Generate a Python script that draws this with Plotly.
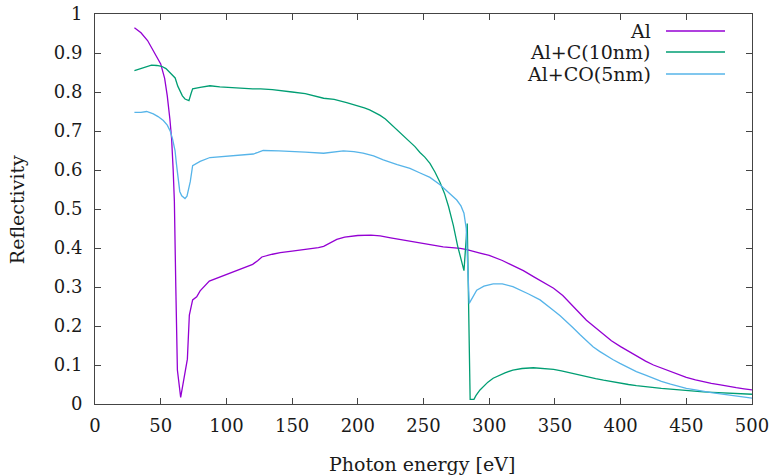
import plotly.graph_objects as go

# ---------------- data ----------------
al_E = [30, 35, 40, 43, 47, 50, 53, 55, 57, 58.3, 59.5, 60.4, 61.5, 62.7, 65.2, 67.5,
        70.3, 71.8, 74.3, 77.4, 80, 87, 95, 103, 110, 120, 124, 127, 135, 141, 150, 160,
        170, 174, 180, 184, 190, 200, 210, 217, 225, 240, 255, 265, 278, 283, 293, 300,
        310, 318, 326, 334, 341, 349, 356, 362, 368, 374, 381, 387, 393, 400, 406, 412,
        419, 425, 431, 438, 444, 450, 457, 463, 469, 476, 482, 488, 494, 500]
al_R = [0.965, 0.952, 0.932, 0.915, 0.89, 0.872, 0.835, 0.79, 0.73, 0.68, 0.6, 0.52, 0.3, 0.087, 0.017, 0.06,
        0.115, 0.228, 0.267, 0.275, 0.29, 0.315, 0.325, 0.337, 0.344, 0.358, 0.368, 0.377, 0.384, 0.388, 0.392, 0.396,
        0.401, 0.404, 0.415, 0.422, 0.428, 0.432, 0.433, 0.431, 0.426, 0.418, 0.409, 0.403, 0.399, 0.396, 0.387, 0.381,
        0.368, 0.356, 0.342, 0.326, 0.312, 0.297, 0.278, 0.258, 0.236, 0.215, 0.195, 0.178, 0.162, 0.147, 0.135, 0.122,
        0.11, 0.1, 0.092, 0.083, 0.075, 0.068, 0.062, 0.057, 0.053, 0.049, 0.045, 0.042, 0.039, 0.036]

alc_E = [30, 35, 40, 43, 47, 50.7, 54, 57, 61, 63, 64.7, 66.5, 68.5, 71.5, 73, 74.3, 80, 87.5,
         95, 103, 110, 120, 126, 135, 150, 160, 174, 182, 191.5, 200, 205, 209, 213, 217, 221,
         224.5, 228, 232, 236, 239.7, 243.5, 247.3, 251, 254.9, 258.7, 262.6, 266, 269, 272.7,
         276, 278.5, 280.8, 283.3, 285.5, 288.4, 290, 293, 296, 299, 303, 307, 312, 318, 325,
         333.6, 341, 349, 355, 361, 368, 374, 381, 387, 393, 400, 406, 412, 419, 425, 431, 438,
         444, 450, 457, 463, 470, 476, 482, 488, 494, 500]
alc_R = [0.855, 0.861, 0.866, 0.869, 0.868, 0.866, 0.86, 0.85, 0.836, 0.815, 0.802, 0.79, 0.782, 0.778, 0.795, 0.808, 0.812, 0.816,
         0.813, 0.811, 0.81, 0.808, 0.808, 0.806, 0.8, 0.796, 0.784, 0.781, 0.773, 0.765, 0.759, 0.754, 0.748, 0.74, 0.731,
         0.72, 0.71, 0.698, 0.686, 0.673, 0.66, 0.645, 0.633, 0.617, 0.595, 0.568, 0.54, 0.507, 0.458,
         0.405, 0.372, 0.342, 0.463, 0.012, 0.012, 0.022, 0.036, 0.047, 0.056, 0.066, 0.073, 0.08, 0.087, 0.091,
         0.093, 0.092, 0.089, 0.085, 0.08, 0.075, 0.07, 0.065, 0.061, 0.057, 0.053, 0.05, 0.047, 0.044, 0.042, 0.04, 0.038,
         0.036, 0.034, 0.032, 0.031, 0.03, 0.029, 0.028, 0.027, 0.026, 0.025]

alco_E = [30, 35, 39.3, 44.4, 48, 52, 55, 57.1, 59, 60.9, 62, 63.4, 64.5, 66, 68.5, 70, 71, 72.5,
          74.3, 80, 87.5, 95, 103, 110, 120.5, 124, 128, 140, 150, 160, 174, 180, 189, 197, 204,
          212, 219.4, 230, 239.7, 247, 254.9, 262.6, 270, 275.3, 278.5, 280.8, 282.5, 284.8, 290.5,
          296, 303, 310, 318, 324, 330, 338.7, 344, 349, 354, 359, 364, 369, 374, 379, 384, 389,
          394, 399.5, 406, 412, 419, 425, 431, 438, 444, 450, 457, 463, 469, 476, 482, 488, 494, 500]
alco_R = [0.748, 0.748, 0.75, 0.744, 0.737, 0.727, 0.715, 0.701, 0.68, 0.65, 0.615, 0.573, 0.545, 0.534, 0.527, 0.533, 0.547, 0.57,
          0.611, 0.622, 0.632, 0.634, 0.636, 0.638, 0.641, 0.645, 0.65, 0.649, 0.648, 0.646, 0.643, 0.645, 0.649, 0.647, 0.643,
          0.636, 0.626, 0.614, 0.604, 0.593, 0.581, 0.562, 0.54, 0.523, 0.508, 0.489, 0.45, 0.258, 0.292,
          0.302, 0.308, 0.308, 0.301, 0.292, 0.282, 0.267, 0.254, 0.24, 0.226, 0.211, 0.195, 0.178, 0.162, 0.147, 0.135, 0.124,
          0.114, 0.104, 0.093, 0.083, 0.074, 0.066, 0.058, 0.051, 0.045, 0.04, 0.036, 0.032, 0.029, 0.026, 0.023, 0.02, 0.017, 0.015]

series_names = ["Al", "Al+C(10nm)", "Al+CO(5nm)"]
series_colors = ["#9400d3", "#009e73", "#56b4e9"]

x_ticks = [0, 50, 100, 150, 200, 250, 300, 350, 400, 450, 500]
y_ticks = [0, 0.1, 0.2, 0.3, 0.4, 0.5, 0.6, 0.7, 0.8, 0.9, 1]
y_ticklabels = ["0", "0.1", "0.2", "0.3", "0.4", "0.5", "0.6", "0.7", "0.8", "0.9", "1"]

# ---------------- figure ----------------
FONT = "DejaVu Serif"
TXT = "#1a1a1a"
fig = go.Figure()
for E, R, name, col in zip([al_E, alc_E, alco_E], [al_R, alc_R, alco_R], series_names, series_colors):
    fig.add_trace(go.Scatter(x=E, y=R, mode="lines", name=name,
                             line=dict(color=col, width=1.3), showlegend=False))

axis_common = dict(showline=True, linecolor="#444", linewidth=1, mirror="ticks",
                   ticks="inside", ticklen=6, tickcolor="#444", tickwidth=1,
                   showgrid=False, zeroline=False, automargin=False,
                   tickfont=dict(family=FONT, size=18, color=TXT))
fig.update_xaxes(range=[0, 500], tickvals=x_ticks, ticktext=[str(v) for v in x_ticks],
                 ticklabelstandoff=5, **axis_common)
fig.update_yaxes(range=[0, 1], tickvals=y_ticks, ticktext=y_ticklabels,
                 ticklabelstandoff=8, **axis_common)

# axis titles
fig.add_annotation(text="Photon energy [eV]", xref="paper", yref="paper", x=0.4977, y=0,
                   xanchor="center", yanchor="middle", yshift=-60, showarrow=False,
                   font=dict(family=FONT, size=19, color=TXT))
fig.add_annotation(text="Reflectivity", xref="paper", yref="paper", x=0, y=0.497,
                   xanchor="center", yanchor="middle", xshift=-78, textangle=-90, showarrow=False,
                   font=dict(family=FONT, size=19, color=TXT))

# legend (gnuplot style: text then sample line)
leg_y = [0.9564, 0.9026, 0.8462]
for name, col, yy in zip(series_names, series_colors, leg_y):
    fig.add_annotation(text=name, xref="paper", yref="paper", x=0.8493, y=yy,
                       xanchor="right", yanchor="middle", showarrow=False,
                       font=dict(family=FONT, size=19, color=TXT))
    fig.add_shape(type="line", xref="paper", yref="paper", x0=0.8691, x1=0.9589, y0=yy, y1=yy,
                  line=dict(color=col, width=1.3))

fig.update_layout(width=770, height=475, margin=dict(l=95, r=18, t=14, b=71, autoexpand=False),
                  plot_bgcolor="white", paper_bgcolor="white",
                  font=dict(family=FONT, color=TXT))
fig.write_html("out.html")
